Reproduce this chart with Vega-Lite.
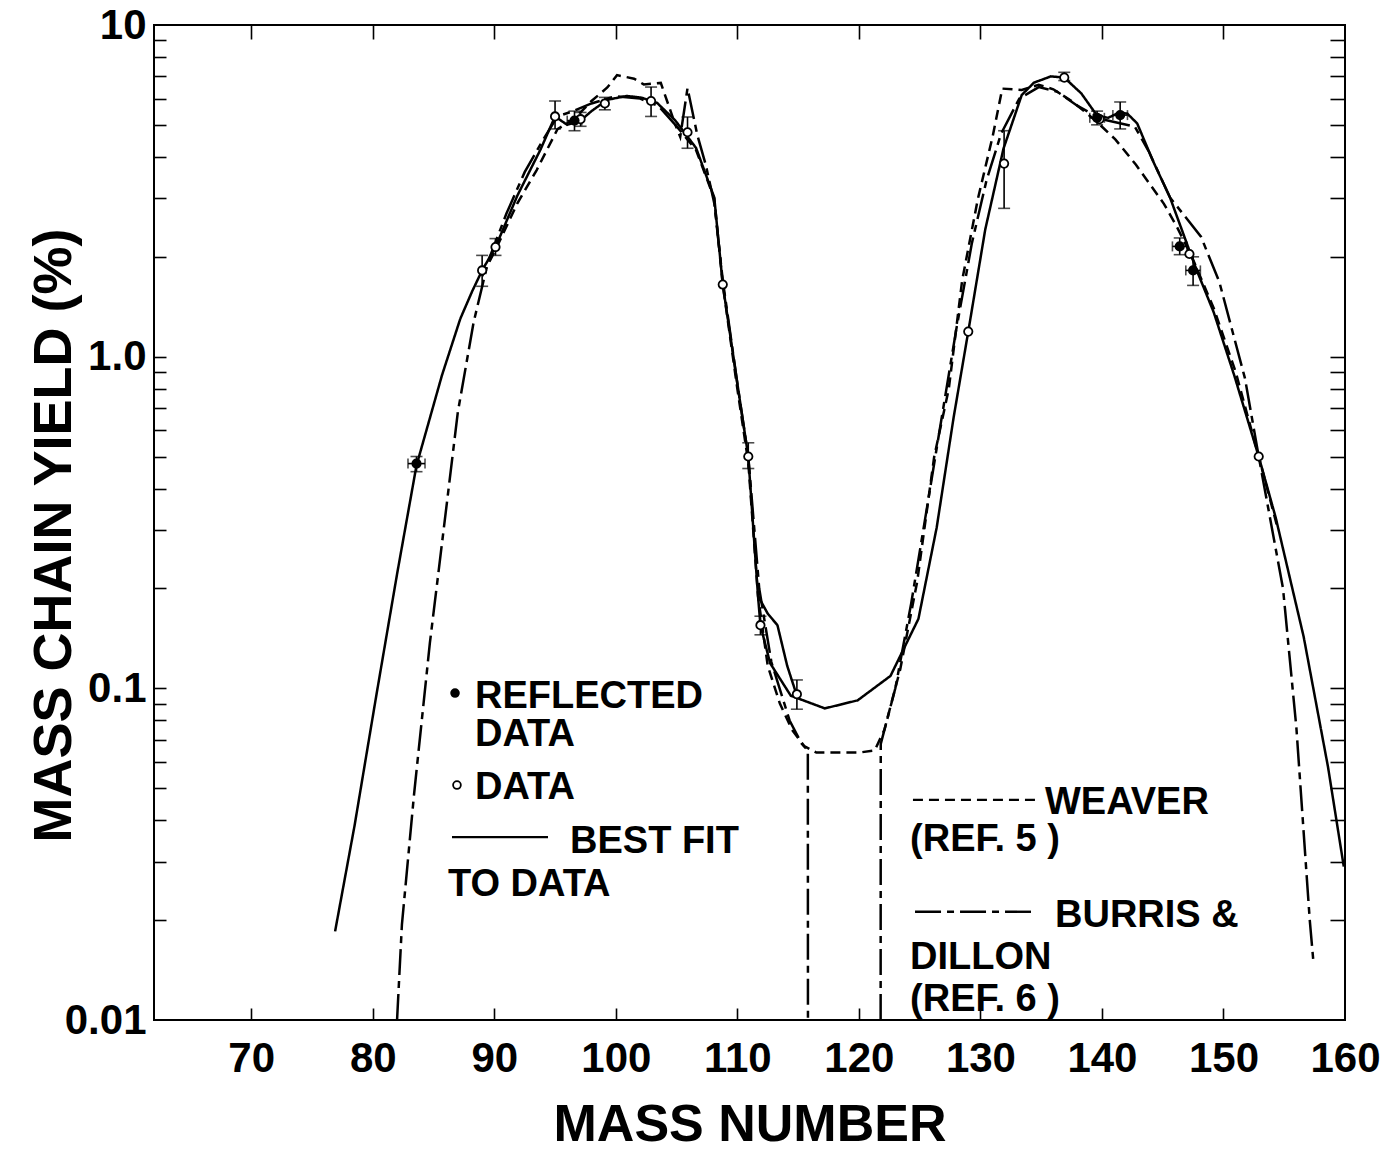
{
  "$schema": "https://vega.github.io/schema/vega-lite/v6.json",
  "width": 1191,
  "height": 995,
  "autosize": "none",
  "padding": {"left": 154, "top": 25, "right": 41, "bottom": 130},
  "background": "white",
  "config": {
    "view": {"stroke": "black", "strokeWidth": 2},
    "font": "Liberation Sans",
    "axis": {"grid": false, "domain": false, "tickColor": "black", "tickWidth": 1.6, "labelColor": "black", "titleColor": "black", "labelFont": "Liberation Sans", "titleFont": "Liberation Sans"}
  },
  "datasets": {
    "curves": [
      {"s": "fit", "m": 76.9, "y": 0.0185}, {"s": "fit", "m": 78.5, "y": 0.0385}, {"s": "fit", "m": 80.3, "y": 0.0955}, {"s": "fit", "m": 82.0, "y": 0.221}, {"s": "fit", "m": 83.6, "y": 0.47}, {"s": "fit", "m": 85.7, "y": 0.88}, {"s": "fit", "m": 87.2, "y": 1.3}, {"s": "fit", "m": 88.2, "y": 1.58}, {"s": "fit", "m": 89.0, "y": 1.82}, {"s": "fit", "m": 90.1, "y": 2.14}, {"s": "fit", "m": 91.9, "y": 3.06}, {"s": "fit", "m": 93.8, "y": 4.21}, {"s": "fit", "m": 95.0, "y": 5.3}, {"s": "fit", "m": 96.0, "y": 5.0}, {"s": "fit", "m": 97.1, "y": 5.15}, {"s": "fit", "m": 98.0, "y": 5.5}, {"s": "fit", "m": 99.3, "y": 5.95}, {"s": "fit", "m": 100.9, "y": 6.11}, {"s": "fit", "m": 102.1, "y": 6.04}, {"s": "fit", "m": 103.4, "y": 5.82}, {"s": "fit", "m": 104.9, "y": 5.15}, {"s": "fit", "m": 106.6, "y": 4.26}, {"s": "fit", "m": 108.1, "y": 3.02}, {"s": "fit", "m": 108.8, "y": 1.65}, {"s": "fit", "m": 110.0, "y": 0.83}, {"s": "fit", "m": 110.9, "y": 0.5}, {"s": "fit", "m": 111.7, "y": 0.19}, {"s": "fit", "m": 111.9, "y": 0.155}, {"s": "fit", "m": 112.7, "y": 0.119}, {"s": "fit", "m": 114.4, "y": 0.095}, {"s": "fit", "m": 117.2, "y": 0.087}, {"s": "fit", "m": 119.9, "y": 0.092}, {"s": "fit", "m": 122.6, "y": 0.109}, {"s": "fit", "m": 124.9, "y": 0.162}, {"s": "fit", "m": 126.4, "y": 0.305}, {"s": "fit", "m": 127.8, "y": 0.657}, {"s": "fit", "m": 129.0, "y": 1.19}, {"s": "fit", "m": 130.4, "y": 2.42}, {"s": "fit", "m": 131.9, "y": 4.24}, {"s": "fit", "m": 133.4, "y": 6.15}, {"s": "fit", "m": 134.4, "y": 6.7}, {"s": "fit", "m": 135.8, "y": 7.0}, {"s": "fit", "m": 136.9, "y": 6.94}, {"s": "fit", "m": 138.3, "y": 6.22}, {"s": "fit", "m": 139.6, "y": 5.33}, {"s": "fit", "m": 140.5, "y": 5.25}, {"s": "fit", "m": 141.5, "y": 5.46}, {"s": "fit", "m": 142.1, "y": 5.4}, {"s": "fit", "m": 142.9, "y": 5.05}, {"s": "fit", "m": 144.2, "y": 3.89}, {"s": "fit", "m": 145.6, "y": 3.02}, {"s": "fit", "m": 146.8, "y": 2.29}, {"s": "fit", "m": 147.7, "y": 1.86}, {"s": "fit", "m": 149.2, "y": 1.36}, {"s": "fit", "m": 150.9, "y": 0.875}, {"s": "fit", "m": 152.9, "y": 0.5}, {"s": "fit", "m": 154.3, "y": 0.327}, {"s": "fit", "m": 156.6, "y": 0.143}, {"s": "fit", "m": 158.6, "y": 0.058}, {"s": "fit", "m": 159.9, "y": 0.029},
      {"s": "fit2", "m": 111.7, "y": 0.19}, {"s": "fit2", "m": 112.5, "y": 0.168}, {"s": "fit2", "m": 113.3, "y": 0.155}, {"s": "fit2", "m": 114.1, "y": 0.117}, {"s": "fit2", "m": 114.9, "y": 0.095},
      {"s": "weaver", "m": 89.0, "y": 1.75}, {"s": "weaver", "m": 90.1, "y": 2.1}, {"s": "weaver", "m": 91.9, "y": 2.9}, {"s": "weaver", "m": 93.5, "y": 3.66}, {"s": "weaver", "m": 95.2, "y": 4.85}, {"s": "weaver", "m": 96.6, "y": 5.22}, {"s": "weaver", "m": 98.0, "y": 5.9}, {"s": "weaver", "m": 99.3, "y": 6.48}, {"s": "weaver", "m": 100.1, "y": 7.06}, {"s": "weaver", "m": 101.5, "y": 6.89}, {"s": "weaver", "m": 102.3, "y": 6.62}, {"s": "weaver", "m": 103.7, "y": 6.69}, {"s": "weaver", "m": 104.9, "y": 5.0}, {"s": "weaver", "m": 106.6, "y": 4.2}, {"s": "weaver", "m": 108.1, "y": 3.0}, {"s": "weaver", "m": 108.8, "y": 1.65}, {"s": "weaver", "m": 110.0, "y": 0.8}, {"s": "weaver", "m": 110.9, "y": 0.48}, {"s": "weaver", "m": 111.7, "y": 0.19}, {"s": "weaver", "m": 112.5, "y": 0.117}, {"s": "weaver", "m": 113.5, "y": 0.09}, {"s": "weaver", "m": 114.5, "y": 0.075}, {"s": "weaver", "m": 115.5, "y": 0.067}, {"s": "weaver", "m": 116.5, "y": 0.064}, {"s": "weaver", "m": 120.0, "y": 0.064}, {"s": "weaver", "m": 121.3, "y": 0.065}, {"s": "weaver", "m": 122.1, "y": 0.075}, {"s": "weaver", "m": 123.4, "y": 0.114}, {"s": "weaver", "m": 124.8, "y": 0.21}, {"s": "weaver", "m": 126.2, "y": 0.5}, {"s": "weaver", "m": 127.4, "y": 0.8}, {"s": "weaver", "m": 128.5, "y": 1.7}, {"s": "weaver", "m": 129.8, "y": 3.0}, {"s": "weaver", "m": 131.0, "y": 4.6}, {"s": "weaver", "m": 131.8, "y": 6.43}, {"s": "weaver", "m": 133.4, "y": 6.37}, {"s": "weaver", "m": 134.8, "y": 6.6}, {"s": "weaver", "m": 136.0, "y": 6.4}, {"s": "weaver", "m": 137.5, "y": 5.9}, {"s": "weaver", "m": 139.4, "y": 5.18}, {"s": "weaver", "m": 141.1, "y": 4.52}, {"s": "weaver", "m": 142.8, "y": 3.79}, {"s": "weaver", "m": 145.1, "y": 2.89}, {"s": "weaver", "m": 146.2, "y": 2.45}, {"s": "weaver", "m": 147.4, "y": 2.0}, {"s": "weaver", "m": 149.2, "y": 1.4}, {"s": "weaver", "m": 151.0, "y": 0.9}, {"s": "weaver", "m": 152.9, "y": 0.5}, {"s": "weaver", "m": 154.5, "y": 0.3},
      {"s": "burrisL", "m": 82.0, "y": 0.01}, {"s": "burrisL", "m": 82.4, "y": 0.0194}, {"s": "burrisL", "m": 83.4, "y": 0.048}, {"s": "burrisL", "m": 84.7, "y": 0.137}, {"s": "burrisL", "m": 86.0, "y": 0.338}, {"s": "burrisL", "m": 87.0, "y": 0.68}, {"s": "burrisL", "m": 88.3, "y": 1.27}, {"s": "burrisL", "m": 89.5, "y": 1.94}, {"s": "burrisL", "m": 91.0, "y": 2.7}, {"s": "burrisL", "m": 92.5, "y": 3.6}, {"s": "burrisL", "m": 94.0, "y": 4.5}, {"s": "burrisL", "m": 95.2, "y": 5.3}, {"s": "burrisL", "m": 96.5, "y": 5.5}, {"s": "burrisL", "m": 98.0, "y": 5.8}, {"s": "burrisL", "m": 100.0, "y": 6.1}, {"s": "burrisL", "m": 102.0, "y": 6.0}, {"s": "burrisL", "m": 103.5, "y": 5.7}, {"s": "burrisL", "m": 104.9, "y": 5.0}, {"s": "burrisL", "m": 105.3, "y": 4.6}, {"s": "burrisL", "m": 105.9, "y": 6.45}, {"s": "burrisL", "m": 106.7, "y": 4.67}, {"s": "burrisL", "m": 107.4, "y": 3.79}, {"s": "burrisL", "m": 108.1, "y": 2.9}, {"s": "burrisL", "m": 108.8, "y": 1.7}, {"s": "burrisL", "m": 110.0, "y": 0.83}, {"s": "burrisL", "m": 110.9, "y": 0.5}, {"s": "burrisL", "m": 111.8, "y": 0.2}, {"s": "burrisL", "m": 112.8, "y": 0.12}, {"s": "burrisL", "m": 114.3, "y": 0.08}, {"s": "burrisL", "m": 115.3, "y": 0.068}, {"s": "burrisL", "m": 115.8, "y": 0.065}, {"s": "burrisL", "m": 115.81, "y": 0.01},
      {"s": "burrisR", "m": 121.79, "y": 0.01}, {"s": "burrisR", "m": 121.8, "y": 0.068}, {"s": "burrisR", "m": 123.0, "y": 0.1}, {"s": "burrisR", "m": 124.3, "y": 0.18}, {"s": "burrisR", "m": 125.6, "y": 0.35}, {"s": "burrisR", "m": 126.8, "y": 0.65}, {"s": "burrisR", "m": 128.0, "y": 1.2}, {"s": "burrisR", "m": 129.3, "y": 2.2}, {"s": "burrisR", "m": 130.5, "y": 3.4}, {"s": "burrisR", "m": 131.7, "y": 4.7}, {"s": "burrisR", "m": 133.2, "y": 6.0}, {"s": "burrisR", "m": 134.8, "y": 6.5}, {"s": "burrisR", "m": 136.3, "y": 6.3}, {"s": "burrisR", "m": 138.0, "y": 5.7}, {"s": "burrisR", "m": 140.0, "y": 5.2}, {"s": "burrisR", "m": 142.7, "y": 4.94}, {"s": "burrisR", "m": 143.85, "y": 4.16}, {"s": "burrisR", "m": 145.6, "y": 3.02}, {"s": "burrisR", "m": 148.15, "y": 2.3}, {"s": "burrisR", "m": 149.66, "y": 1.68}, {"s": "burrisR", "m": 151.77, "y": 0.86}, {"s": "burrisR", "m": 152.9, "y": 0.5}, {"s": "burrisR", "m": 154.9, "y": 0.2}, {"s": "burrisR", "m": 156.0, "y": 0.076}, {"s": "burrisR", "m": 157.1, "y": 0.02}, {"s": "burrisR", "m": 157.4, "y": 0.015}
    ],
    "pts": [
      {"k": "open", "m": 89.0, "y": 1.82, "lo": 1.63, "hi": 2.02},
      {"k": "open", "m": 90.1, "y": 2.14, "lo": 2.02, "hi": 2.27},
      {"k": "open", "m": 95.0, "y": 5.3, "lo": 4.86, "hi": 5.9},
      {"k": "open", "m": 97.1, "y": 5.2, "lo": 4.95, "hi": 5.45},
      {"k": "open", "m": 99.1, "y": 5.8, "lo": 5.55, "hi": 6.05},
      {"k": "open", "m": 102.9, "y": 5.9, "lo": 5.3, "hi": 6.5},
      {"k": "open", "m": 105.9, "y": 4.75, "lo": 4.25, "hi": 5.28},
      {"k": "open", "m": 108.8, "y": 1.65},
      {"k": "open", "m": 110.9, "y": 0.5, "lo": 0.46, "hi": 0.55},
      {"k": "open", "m": 111.9, "y": 0.155, "lo": 0.145, "hi": 0.165},
      {"k": "open", "m": 114.9, "y": 0.096, "lo": 0.0865, "hi": 0.106},
      {"k": "open", "m": 129.0, "y": 1.19},
      {"k": "open", "m": 131.95, "y": 3.82, "lo": 2.8, "hi": 4.8},
      {"k": "open", "m": 136.9, "y": 6.94, "lo": 6.8, "hi": 7.2},
      {"k": "open", "m": 139.8, "y": 5.2},
      {"k": "open", "m": 147.2, "y": 2.04},
      {"k": "open", "m": 152.9, "y": 0.5},
      {"k": "refl", "m": 83.6, "y": 0.476, "lo": 0.45, "hi": 0.5, "xlo": 82.9, "xhi": 84.3},
      {"k": "refl", "m": 96.6, "y": 5.15, "lo": 4.8, "hi": 5.5, "xlo": 96.0, "xhi": 97.2},
      {"k": "refl", "m": 139.6, "y": 5.25, "lo": 5.0, "hi": 5.5, "xlo": 139.0, "xhi": 140.2},
      {"k": "refl", "m": 141.5, "y": 5.35, "lo": 4.86, "hi": 5.86, "xlo": 140.9, "xhi": 142.1},
      {"k": "refl", "m": 146.4, "y": 2.15, "lo": 2.03, "hi": 2.28, "xlo": 145.8, "xhi": 147.0},
      {"k": "refl", "m": 147.5, "y": 1.82, "lo": 1.64, "hi": 2.0, "xlo": 146.9, "xhi": 148.1}
    ],
    "notes": [
      {"t": "REFLECTED", "m": 88.41, "y": 0.0942},
      {"t": "DATA", "m": 88.41, "y": 0.0723},
      {"t": "DATA", "m": 88.41, "y": 0.0501},
      {"t": "BEST FIT", "m": 96.23, "y": 0.0344},
      {"t": "TO DATA", "m": 86.19, "y": 0.0255},
      {"t": "WEAVER", "m": 135.31, "y": 0.0451},
      {"t": "(REF. 5 )", "m": 124.21, "y": 0.0349},
      {"t": "BURRIS &", "m": 136.14, "y": 0.0206},
      {"t": "DILLON", "m": 124.21, "y": 0.01538},
      {"t": "(REF. 6 )", "m": 124.21, "y": 0.01149}
    ],
    "keylines": [
      {"s": "fit", "m1": 86.52, "m2": 94.42, "y": 0.0356},
      {"s": "weaver", "m1": 124.45, "m2": 134.49, "y": 0.0461},
      {"s": "burrisL", "m1": 124.62, "m2": 134.49, "y": 0.0212}
    ],
    "keysyms": [
      {"k": "refl", "m": 86.77, "y": 0.0968},
      {"k": "open", "m": 86.93, "y": 0.0511}
    ]
  },
  "resolve": {"axis": {"x": "independent", "y": "independent"}},
  "layer": [
    {
      "data": {"name": "curves"},
      "mark": {"type": "line", "color": "black", "strokeWidth": 2.5, "clip": true},
      "encoding": {
        "x": {"field": "m", "type": "quantitative", "scale": {"domain": [62, 160], "nice": false, "zero": false},
          "axis": {"orient": "bottom", "values": [70, 80, 90, 100, 110, 120, 130, 140, 150, 160], "ticks": false, "tickSize": 0, "labelFontSize": 42, "labelFontWeight": "bold", "labelPadding": 18, "labelFlush": false, "labelOverlap": false, "title": "MASS NUMBER", "titleFontSize": 52, "titleFontWeight": "bold", "titleY": 120, "titleBaseline": "alphabetic"}},
        "y": {"field": "y", "type": "quantitative", "scale": {"type": "log", "domain": [0.01, 10], "nice": false},
          "axis": {"orient": "left", "values": [0.01, 0.1, 1, 10], "ticks": false, "tickSize": 0, "labelExpr": "datum.value > 5 ? '10' : datum.value > 0.5 ? '1.0' : datum.value > 0.05 ? '0.1' : '0.01'", "labelFontSize": 42, "labelFontWeight": "bold", "labelPadding": 8, "labelFlush": false, "labelOverlap": false, "title": "MASS CHAIN YIELD (%)", "titleFontSize": 54, "titleFontWeight": "bold", "titleX": -84, "titleY": 510, "titleBaseline": "alphabetic"}},
        "strokeDash": {"field": "s", "type": "nominal", "scale": {"domain": ["fit", "fit2", "weaver", "burrisL", "burrisR"], "range": [[1, 0], [1, 0], [10, 6], [26, 6, 7, 6], [26, 6, 7, 6]]}, "legend": null},
        "detail": {"field": "s"}
      }
    },
    {
      "data": {"name": "pts"},
      "transform": [{"filter": "datum.lo != null"}],
      "mark": {"type": "rule", "color": "black", "strokeWidth": 1.6},
      "encoding": {
        "x": {"field": "m", "type": "quantitative", "axis": {"orient": "top", "values": [70, 80, 90, 100, 110, 120, 130, 140, 150], "labels": false, "tickSize": -14, "title": null}},
        "y": {"field": "lo", "type": "quantitative", "axis": {"orient": "right", "values": [0.02, 0.03, 0.04, 0.05, 0.06, 0.07, 0.08, 0.09, 0.1, 0.2, 0.3, 0.4, 0.5, 0.6, 0.7, 0.8, 0.9, 1, 2, 3, 4, 5, 6, 7, 8, 9], "labels": false, "tickSize": -15, "title": null}},
        "y2": {"field": "hi"}
      }
    },
    {
      "data": {"name": "pts"},
      "transform": [{"filter": "datum.xlo != null"}],
      "mark": {"type": "rule", "color": "black", "strokeWidth": 1.6},
      "encoding": {
        "x": {"field": "xlo", "type": "quantitative", "axis": {"orient": "bottom", "values": [70, 80, 90, 100, 110, 120, 130, 140, 150], "labels": false, "tickSize": -12, "title": null}},
        "x2": {"field": "xhi"},
        "y": {"field": "y", "type": "quantitative", "axis": {"orient": "left", "values": [0.02, 0.03, 0.04, 0.05, 0.06, 0.07, 0.08, 0.09, 0.1, 0.2, 0.3, 0.4, 0.5, 0.6, 0.7, 0.8, 0.9, 1, 2, 3, 4, 5, 6, 7, 8, 9], "labels": false, "tickSize": -12, "title": null}}
      }
    },
    {
      "data": {"name": "pts"},
      "transform": [{"filter": "datum.lo != null"}],
      "mark": {"type": "tick", "orient": "horizontal", "color": "black", "size": 12, "thickness": 1.6},
      "encoding": {
        "x": {"field": "m", "type": "quantitative", "axis": null},
        "y": {"field": "lo", "type": "quantitative", "axis": null}
      }
    },
    {
      "data": {"name": "pts"},
      "transform": [{"filter": "datum.hi != null"}],
      "mark": {"type": "tick", "orient": "horizontal", "color": "black", "size": 12, "thickness": 1.6},
      "encoding": {
        "x": {"field": "m", "type": "quantitative", "axis": null},
        "y": {"field": "hi", "type": "quantitative", "axis": null}
      }
    },
    {
      "data": {"name": "pts"},
      "transform": [{"filter": "datum.xlo != null"}],
      "mark": {"type": "tick", "orient": "vertical", "color": "black", "size": 10, "thickness": 1.6},
      "encoding": {
        "x": {"field": "xlo", "type": "quantitative", "axis": null},
        "y": {"field": "y", "type": "quantitative", "axis": null}
      }
    },
    {
      "data": {"name": "pts"},
      "transform": [{"filter": "datum.xhi != null"}],
      "mark": {"type": "tick", "orient": "vertical", "color": "black", "size": 10, "thickness": 1.6},
      "encoding": {
        "x": {"field": "xhi", "type": "quantitative", "axis": null},
        "y": {"field": "y", "type": "quantitative", "axis": null}
      }
    },
    {
      "data": {"name": "pts"},
      "mark": {"type": "point", "shape": "circle", "filled": true, "stroke": "black", "strokeWidth": 1.8, "size": 70, "opacity": 1},
      "encoding": {
        "x": {"field": "m", "type": "quantitative", "axis": null},
        "y": {"field": "y", "type": "quantitative", "axis": null},
        "fill": {"field": "k", "type": "nominal", "scale": {"domain": ["open", "refl"], "range": ["white", "black"]}, "legend": null}
      }
    },
    {
      "data": {"name": "keysyms"},
      "mark": {"type": "point", "shape": "circle", "filled": true, "stroke": "black", "strokeWidth": 1.8, "size": 60, "opacity": 1},
      "encoding": {
        "x": {"field": "m", "type": "quantitative", "axis": null},
        "y": {"field": "y", "type": "quantitative", "axis": null},
        "fill": {"field": "k", "type": "nominal", "legend": null}
      }
    },
    {
      "data": {"name": "keylines"},
      "mark": {"type": "rule", "color": "black", "strokeWidth": 2.4},
      "encoding": {
        "x": {"field": "m1", "type": "quantitative", "axis": null},
        "x2": {"field": "m2"},
        "y": {"field": "y", "type": "quantitative", "axis": null},
        "strokeDash": {"field": "s", "type": "nominal", "legend": null}
      }
    },
    {
      "data": {"name": "notes"},
      "mark": {"type": "text", "align": "left", "baseline": "middle", "fontSize": 38, "fontWeight": "bold", "font": "Liberation Sans", "color": "black"},
      "encoding": {
        "x": {"field": "m", "type": "quantitative", "axis": null},
        "y": {"field": "y", "type": "quantitative", "axis": null},
        "text": {"field": "t", "type": "nominal"}
      }
    }
  ]
}
